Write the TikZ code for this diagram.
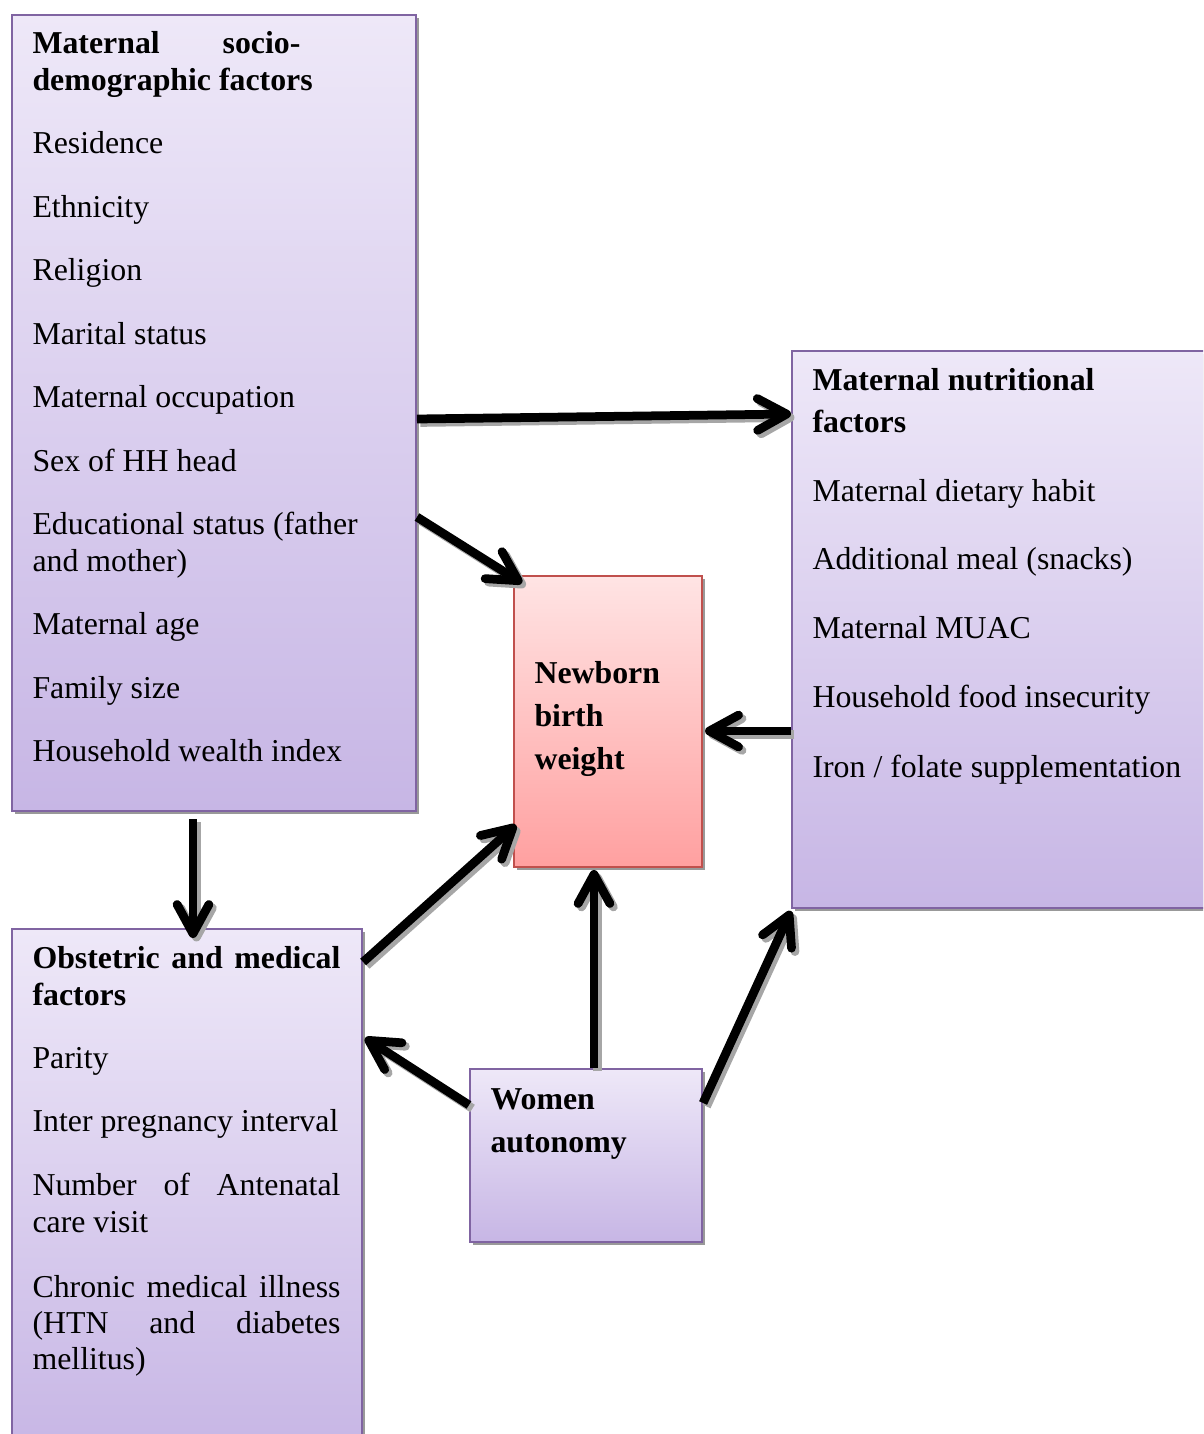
\documentclass[tikz,border=0pt]{standalone}
\usepackage{fontspec}
\setmainfont{Liberation Serif}
\usetikzlibrary{arrows.meta,calc,shadows}

\definecolor{boxtop}{RGB}{238,232,248}
\definecolor{boxbot}{RGB}{199,182,229}
\definecolor{boxline}{RGB}{128,100,162}
\definecolor{bwtop}{RGB}{255,228,228}
\definecolor{bwbot}{RGB}{255,160,160}
\definecolor{bwline}{RGB}{192,80,77}

\tikzset{
  factor/.style={draw=boxline, line width=0.75pt, top color=boxtop, bottom color=boxbot,
    anchor=north west, inner sep=0pt,
    drop shadow={shadow xshift=1.1pt, shadow yshift=-1.1pt, fill=black!40, opacity=1}},
  outcome/.style={factor, draw=bwline, top color=bwtop, bottom color=bwbot},
  txt/.style={anchor=base west, inner sep=0pt, font=\fontsize{12pt}{13.8pt}\selectfont},
  head/.style={txt, font=\fontsize{12pt}{13.8pt}\selectfont\bfseries},
  link/.style={line width=3.3pt, -{Straight Barb[length=11pt,width=12pt,round]}}
}

% all connectors, drawn once as shadow and once on top
\newcommand\alllinks{%
    \draw[link] ($(socio.north east)+(0,405)$) -- ($(nutri.north west)+(0,64)$);
    \draw[link] ($(socio.north east)+(0,503)$) -- ($(bw.north west)+(9,8)$);
    \draw[link] ($(socio.south west)+(182,7)$) -- ($(obst.north west)+(182,10)$);
    \draw[link] ($(obst.north east)+(0,34)$) -- ($(bw.south west)+(3,-43)$);
    \draw[link] ($(auto.north west)+(0,37)$) -- ($(obst.north east)+(2,110)$);
    \draw[link] ($(auto.north west)+(125,0)$) -- ($(bw.south west)+(81,2)$);
    \draw[link] ($(auto.north east)+(0,35)$) -- ($(nutri.south west)+(0,2)$);
    \draw[link] ($(nutri.north west)+(0,381)$) -- ($(bw.north east)+(2,156)$);
}

\begin{document}
\begin{tikzpicture}[x=0.377pt, y=-0.377pt]
    \useasboundingbox (0,0) rectangle (1203,1434);
    \clip (0,0) rectangle (1203,1434);

    % boxes
    \node[factor, minimum width=152.3pt, minimum height=300.1pt] (socio) at (11,14) {};
    \node[factor, minimum width=159.8pt, minimum height=210pt] (nutri) at (791,350) {};
    \node[outcome, minimum width=70.9pt, minimum height=109.7pt] (bw) at (513,575) {};
    \node[factor, minimum width=132pt, minimum height=196.8pt] (obst) at (11,928) {};
    \node[factor, minimum width=87.5pt, minimum height=65.2pt] (auto) at (469,1068) {};

    % socio-demographic
    \node[head] (s0) at (32,53) {\makebox[101pt][s]{Maternal socio-}};
    \node[head] (s1) at (32,90) {demographic factors};
    \node[txt] (s2) at (32,153) {Residence};
    \node[txt] (s3) at (32,217) {Ethnicity};
    \node[txt] (s4) at (32,280) {Religion};
    \node[txt] (s5) at (32,344) {Marital status};
    \node[txt] (s6) at (32,407) {Maternal occupation};
    \node[txt] (s7) at (32,471) {Sex of HH head};
    \node[txt] (s8) at (32,534) {Educational status (father};
    \node[txt] (s9) at (32,571) {and mother)};
    \node[txt] (s10) at (32,634) {Maternal age};
    \node[txt] (s11) at (32,698) {Family size};
    \node[txt] (s12) at (32,761) {Household wealth index};

    % nutritional
    \node[head] (n0) at (812,390) {Maternal nutritional};
    \node[head] (n1) at (812,432) {factors};
    \node[txt] (n2) at (812,501) {Maternal dietary habit};
    \node[txt] (n3) at (812,569) {Additional meal (snacks)};
    \node[txt] (n4) at (812,638) {Maternal MUAC};
    \node[txt] (n5) at (812,707) {Household food insecurity};
    \node[txt] (n6) at (812,777) {Iron / folate supplementation};

    % outcome
    \node[head] (b0) at (534,683) {Newborn};
    \node[head] (b1) at (534,726) {birth};
    \node[head] (b2) at (534,769) {weight};

    % obstetric
    \node[head] (o0) at (32,968) {\makebox[116.1pt][s]{Obstetric and medical}};
    \node[head] (o1) at (32,1005) {factors};
    \node[txt] (o2) at (32,1068) {Parity};
    \node[txt] (o3) at (32,1131) {Inter pregnancy interval};
    \node[txt] (o4) at (32,1195) {\makebox[116.1pt][s]{Number of Antenatal}};
    \node[txt] (o5) at (32,1232) {care visit};
    \node[txt] (o6) at (32,1297) {\makebox[116.1pt][s]{Chronic medical illness}};
    \node[txt] (o7) at (32,1333) {\makebox[116.1pt][s]{(HTN and diabetes}};
    \node[txt] (o8) at (32,1369) {mellitus)};

    % autonomy
    \node[head] (a0) at (490,1109) {Women};
    \node[head] (a1) at (490,1152) {autonomy};

    % arrows
    \begin{scope}[black!35, transform canvas={shift={(1.3pt,-1.3pt)}}]
      \alllinks
    \end{scope}
    \alllinks
\end{tikzpicture}
\end{document}
